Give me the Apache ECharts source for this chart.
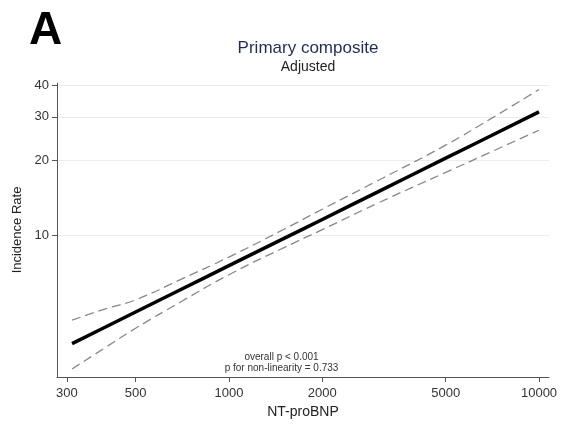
<html>
<head>
    <meta charset="utf-8">
    <title>Primary composite</title>
    <script src="https://cdn.jsdelivr.net/npm/echarts@6/dist/echarts.min.js"></script>
</head>
<body style="margin:0;background:#fff;">
    <div id="chartmain" style="width:563px; height:424px;"></div>
    <script type="text/javascript">
        // NT-proBNP values and the estimated incidence rate with its 95% band
        var ntprobnp = [312, 400, 500, 700, 1000, 1500, 2000, 3000, 5000, 7000, 10000];
        var rate = [3.69, 4.30, 4.94, 6.08, 7.58, 9.73, 11.62, 14.93, 20.47, 25.19, 31.4];
        var upper = [4.58, 5.09, 5.53, 6.68, 8.21, 10.59, 12.77, 16.56, 23.1, 29.5, 38.6];
        var lower = [2.92, 3.56, 4.25, 5.43, 6.97, 8.94, 10.57, 13.46, 17.94, 21.68, 26.5];
        var xTicks = [300, 500, 1000, 2000, 5000, 10000];
        var yTicks = [10, 20, 30, 40];

        function pairs(ys) {
            return ntprobnp.map(function (x, i) { return [x, ys[i]]; });
        }

        var myChart = echarts.init(document.getElementById('chartmain'));
        var font = 'Liberation Sans, Arial, sans-serif';

        myChart.setOption({
            backgroundColor: '#fff',
            animation: false,
            title: [
                {
                    text: 'A', left: 24, top: 3,
                    textStyle: { fontSize: 46, fontWeight: 'bold', color: '#000', fontFamily: font }
                },
                {
                    text: 'Primary composite', subtext: 'Adjusted',
                    left: 303, top: 35, textAlign: 'center', itemGap: 3,
                    textStyle: { fontSize: 17, fontWeight: 'normal', color: '#1f2d55', fontFamily: font },
                    subtextStyle: { fontSize: 14, color: '#222', fontFamily: font }
                }
            ],
            grid: { left: 57, right: 14, top: 83, bottom: 47 },
            xAxis: {
                type: 'log', min: 279, max: 10770,
                name: 'NT-proBNP', nameLocation: 'middle', nameGap: 27,
                nameTextStyle: { fontSize: 14, color: '#222', fontFamily: font },
                axisLine: { lineStyle: { color: '#555', width: 1 } },
                axisTick: { customValues: xTicks, length: 5, lineStyle: { color: '#555' } },
                axisLabel: {
                    customValues: xTicks, fontSize: 13, color: '#333', margin: 10, fontFamily: font,
                    formatter: function (v) { return String(Math.round(v)); }
                },
                splitLine: { show: false },
                minorTick: { show: false }
            },
            yAxis: {
                type: 'log', min: 2.71, max: 41,
                name: 'Incidence Rate', nameLocation: 'middle', nameGap: 33,
                nameTextStyle: { fontSize: 13, color: '#222', fontFamily: font },
                axisLine: { show: true, lineStyle: { color: '#555', width: 1 } },
                axisTick: { show: true, customValues: yTicks, length: 5, lineStyle: { color: '#555' } },
                axisLabel: {
                    customValues: yTicks, fontSize: 13, color: '#333', margin: 8, fontFamily: font,
                    formatter: function (v) { return String(Math.round(v)); }
                },
                splitLine: { show: true, lineStyle: { color: '#ececec', width: 1 } }
            },
            graphic: [
                {
                    type: 'text', left: 'center', top: 352,
                    style: {
                        text: 'overall p < 0.001\np for non-linearity = 0.733',
                        textAlign: 'center', fontSize: 10, lineHeight: 11,
                        fill: '#333', fontFamily: font
                    }
                }
            ],
            series: [
                {
                    name: 'upper', type: 'line', data: pairs(upper), smooth: true,
                    symbol: 'none', lineStyle: { color: '#888', width: 1.3, type: [9, 5] }
                },
                {
                    name: 'lower', type: 'line', data: pairs(lower), smooth: true,
                    symbol: 'none', lineStyle: { color: '#888', width: 1.3, type: [9, 5] }
                },
                {
                    name: 'rate', type: 'line', data: pairs(rate), smooth: true,
                    symbol: 'none', lineStyle: { color: '#000', width: 3.5 }
                }
            ]
        });
    </script>
</body>
</html>
